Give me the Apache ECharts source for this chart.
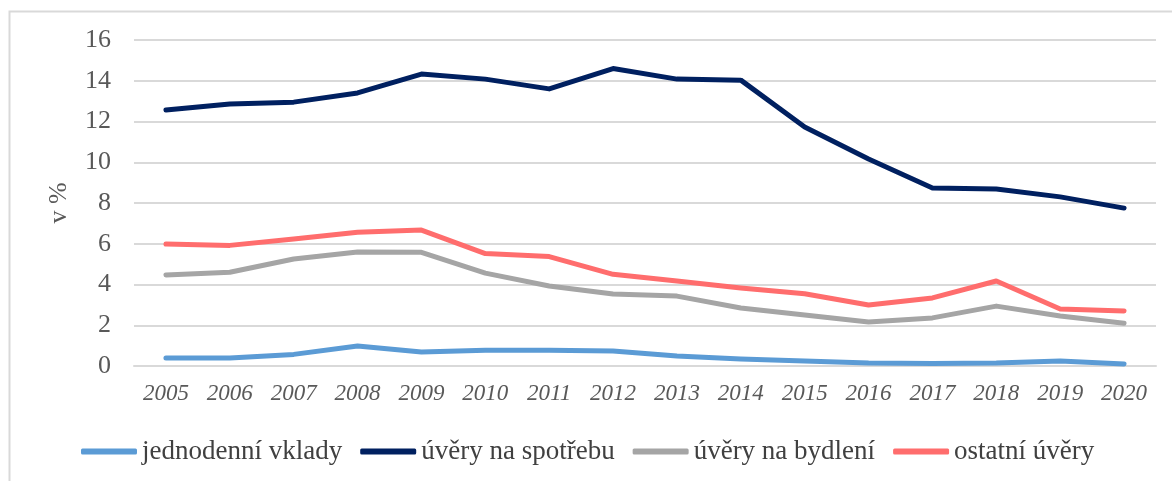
<!DOCTYPE html>
<html>
<head>
    <meta charset="utf-8">
    <title>Úrokové sazby</title>
    <script src="https://cdn.jsdelivr.net/npm/echarts@6/dist/echarts.min.js"></script>
    <style>
      html, body { margin: 0; padding: 0; background: #fff; }
    </style>
</head>
<body>
    <div id="main" style="width: 1172px;height:481px;"></div>
    <script type="text/javascript">
        // roky na ose x
        var years = ['2005','2006','2007','2008','2009','2010','2011','2012','2013','2014','2015','2016','2017','2018','2019','2020'];
        // hodnoty v %
        var jednodenniVklady = [0.39, 0.39, 0.57, 0.98, 0.69, 0.77, 0.77, 0.74, 0.49, 0.34, 0.25, 0.15, 0.12, 0.15, 0.25, 0.1];
        var uveryNaSpotrebu = [12.56, 12.86, 12.95, 13.4, 14.33, 14.08, 13.6, 14.6, 14.08, 14.03, 11.73, 10.16, 8.74, 8.69, 8.3, 7.75];
        var uveryNaBydleni = [4.47, 4.6, 5.25, 5.6, 5.58, 4.56, 3.93, 3.53, 3.43, 2.85, 2.5, 2.16, 2.36, 2.94, 2.45, 2.1];
        var ostatniUvery = [5.99, 5.92, 6.23, 6.56, 6.67, 5.52, 5.37, 4.5, 4.17, 3.83, 3.55, 2.99, 3.34, 4.17, 2.8, 2.7];

        var myChart = echarts.init(document.getElementById('main'));
        var serif = 'Liberation Serif';

        function line(name, data, color) {
          return {
            name: name,
            type: 'line',
            data: data,
            symbol: 'none',
            lineStyle: { width: 5, color: color, cap: 'round', join: 'round' },
            itemStyle: { color: color }
          };
        }

        var option = {
          animation: false,
          textStyle: { fontFamily: serif },
          // rámeček grafu
          graphic: [{
            type: 'rect',
            shape: { x: 9.5, y: 11.5, width: 1200, height: 500 },
            style: { fill: 'none', stroke: '#d9d9d9', lineWidth: 2 }
          }],
          grid: { left: 134, right: 16, top: 40, bottom: 115 },
          legend: {
            top: 433,
            left: 76,
            icon: 'roundRect',
            itemWidth: 56,
            itemHeight: 6,
            itemGap: 18,
            textStyle: { fontFamily: serif, fontSize: 27, color: '#404040' },
            data: ['jednodenní vklady', 'úvěry na spotřebu', 'úvěry na bydlení', 'ostatní úvěry']
          },
          xAxis: {
            type: 'category',
            data: years,
            boundaryGap: true,
            axisLine: { lineStyle: { color: '#d9d9d9', width: 2 } },
            axisTick: { show: false },
            axisLabel: { fontFamily: serif, fontStyle: 'italic', fontSize: 23, color: '#595959', margin: 16 }
          },
          yAxis: {
            type: 'value',
            min: 0,
            max: 16,
            interval: 2,
            name: 'v %',
            nameLocation: 'middle',
            nameGap: 62,
            nameRotate: 90,
            nameTextStyle: { fontFamily: serif, fontSize: 26, color: '#595959' },
            axisLine: { show: false },
            axisTick: { show: false },
            axisLabel: { fontFamily: serif, fontSize: 26, color: '#595959', margin: 23 },
            splitLine: { lineStyle: { color: '#d9d9d9', width: 2 } }
          },
          series: [
            line('jednodenní vklady', jednodenniVklady, '#5b9bd5'),
            line('úvěry na spotřebu', uveryNaSpotrebu, '#002060'),
            line('úvěry na bydlení', uveryNaBydleni, '#a5a5a5'),
            line('ostatní úvěry', ostatniUvery, '#ff6d6d')
          ]
        };
        myChart.setOption(option);
    </script>
</body>
</html>
